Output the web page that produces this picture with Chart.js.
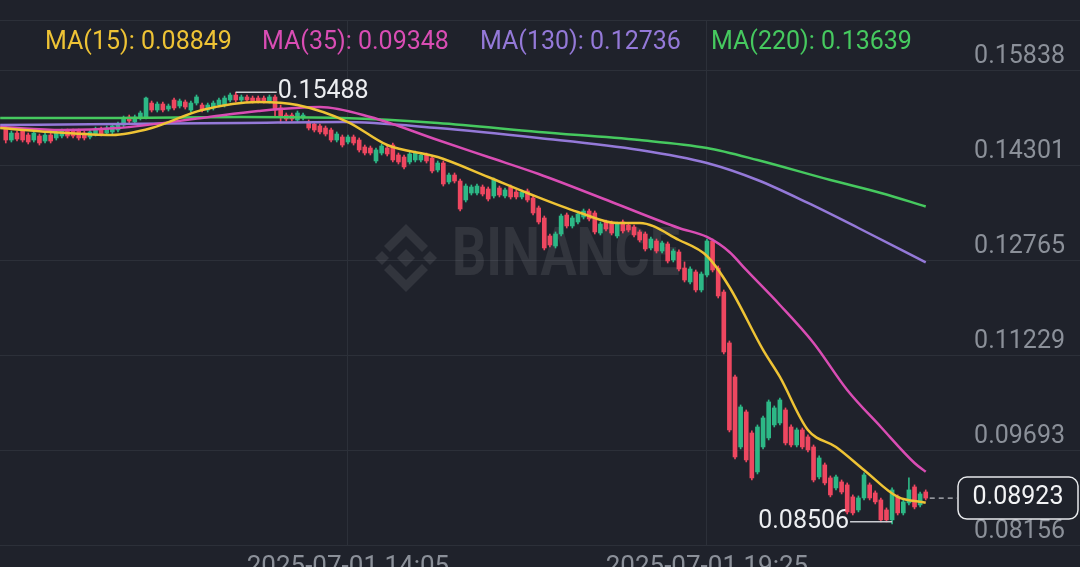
<!DOCTYPE html>
<html lang="en">
<head>
    <meta charset="UTF-8">
    <title>5m candles with MA(15/35/130/220)</title>
    <style>
        html, body {
            margin: 0;
            padding: 0;
            background: #1f222b;
            overflow: hidden;
        }
        body {
            width: 1080px;
            height: 567px;
        }
        #wrap {
            position: relative;
            width: 1080px;
            height: 600px;
        }
    </style>
    <script src="https://cdn.jsdelivr.net/npm/chart.js"></script>
</head>
<body>
    <div id="wrap">
        <canvas id="priceChart" width="1080" height="600" style="width:1080px;height:600px"></canvas>
    </div>

    <script>
        // Candles (5 min)
        const opens = [
            0.14908, 0.14714, 0.14827, 0.14860, 0.14795, 0.14714, 0.14779, 0.14698, 0.14795, 0.14747,
            0.14779, 0.14860, 0.14860, 0.14860, 0.14827, 0.14763, 0.14811, 0.14892, 0.14827, 0.14844,
            0.14876, 0.14957, 0.15086, 0.15005, 0.15070, 0.15086, 0.15312, 0.15199, 0.15296, 0.15215,
            0.15361, 0.15264, 0.15329, 0.15199, 0.15312, 0.15280, 0.15199, 0.15232, 0.15280, 0.15280,
            0.15361, 0.15442, 0.15361, 0.15410, 0.15393, 0.15393, 0.15393, 0.15345, 0.15410, 0.15232,
            0.15118, 0.15118, 0.15038, 0.15070, 0.15005, 0.14973, 0.14941, 0.14908, 0.14876, 0.14714,
            0.14763, 0.14682, 0.14763, 0.14714, 0.14601, 0.14585, 0.14375, 0.14504, 0.14585, 0.14633,
            0.14472, 0.14439, 0.14359, 0.14391, 0.14391, 0.14472, 0.14423, 0.14229, 0.14342, 0.14035,
            0.14148, 0.14051, 0.13744, 0.13857, 0.13857, 0.13954, 0.13922, 0.13809, 0.13938, 0.13809,
            0.13954, 0.13873, 0.13793, 0.13890, 0.13776, 0.13615, 0.13453, 0.13162, 0.13000, 0.13194,
            0.13501, 0.13324, 0.13388, 0.13469, 0.13566, 0.13534, 0.13210, 0.13388, 0.13372, 0.13162,
            0.13388, 0.13340, 0.13307, 0.13227, 0.13194, 0.12968, 0.13081, 0.12919, 0.13033, 0.12774,
            0.12903, 0.12644, 0.12418, 0.12580, 0.12289, 0.12531, 0.13081, 0.12644, 0.12256, 0.11432,
            0.10882, 0.09750, 0.10316, 0.09976, 0.09346, 0.09750, 0.09896, 0.10106, 0.10138, 0.10348,
            0.10073, 0.09782, 0.10025, 0.09912, 0.09750, 0.09265, 0.09459, 0.09249, 0.09087, 0.09184,
            0.09136, 0.08942, 0.08731, 0.08925, 0.09136, 0.09006, 0.08893, 0.08731, 0.08570, 0.08942,
            0.08683, 0.08845, 0.09103, 0.08812, 0.09022
        ];
        const highs = [
            0.14957, 0.14860, 0.14860, 0.14892, 0.14827, 0.14860, 0.14811, 0.14827, 0.14827, 0.14876,
            0.14892, 0.14892, 0.14892, 0.14892, 0.14860, 0.14876, 0.14924, 0.14924, 0.14941, 0.14973,
            0.15005, 0.15102, 0.15118, 0.15118, 0.15183, 0.15410, 0.15345, 0.15329, 0.15329, 0.15296,
            0.15393, 0.15377, 0.15361, 0.15345, 0.15442, 0.15312, 0.15312, 0.15345, 0.15393, 0.15426,
            0.15474, 0.15488, 0.15442, 0.15442, 0.15426, 0.15426, 0.15426, 0.15442, 0.15442, 0.15280,
            0.15151, 0.15151, 0.15183, 0.15151, 0.15038, 0.15005, 0.14973, 0.14941, 0.14908, 0.14844,
            0.14795, 0.14795, 0.14795, 0.14747, 0.14633, 0.14617, 0.14585, 0.14650, 0.14617, 0.14666,
            0.14504, 0.14472, 0.14520, 0.14536, 0.14504, 0.14504, 0.14456, 0.14375, 0.14375, 0.14181,
            0.14181, 0.14084, 0.14003, 0.13987, 0.14003, 0.13987, 0.13954, 0.14100, 0.13970, 0.13938,
            0.13987, 0.13906, 0.13906, 0.13922, 0.13809, 0.13647, 0.13485, 0.13194, 0.13227, 0.13518,
            0.13534, 0.13485, 0.13550, 0.13598, 0.13598, 0.13566, 0.13388, 0.13421, 0.13404, 0.13388,
            0.13421, 0.13372, 0.13340, 0.13259, 0.13227, 0.13146, 0.13113, 0.13081, 0.13065, 0.12952,
            0.12936, 0.12742, 0.12661, 0.12612, 0.12580, 0.13113, 0.13113, 0.12677, 0.12289, 0.11464,
            0.10914, 0.10429, 0.10348, 0.10009, 0.10106, 0.10251, 0.10510, 0.10413, 0.10542, 0.10381,
            0.10106, 0.10057, 0.10057, 0.09944, 0.09782, 0.09605, 0.09491, 0.09281, 0.09297, 0.09216,
            0.09168, 0.08974, 0.08958, 0.09330, 0.09168, 0.09039, 0.08925, 0.08764, 0.09087, 0.08974,
            0.08893, 0.09249, 0.09136, 0.09022, 0.09055
        ];
        const lows = [
            0.14666, 0.14682, 0.14698, 0.14682, 0.14650, 0.14682, 0.14633, 0.14666, 0.14666, 0.14714,
            0.14747, 0.14747, 0.14747, 0.14714, 0.14714, 0.14730, 0.14779, 0.14779, 0.14795, 0.14811,
            0.14844, 0.14924, 0.14989, 0.14973, 0.15038, 0.15054, 0.15167, 0.15167, 0.15167, 0.15183,
            0.15199, 0.15232, 0.15215, 0.15167, 0.15280, 0.15167, 0.15167, 0.15199, 0.15248, 0.15248,
            0.15329, 0.15329, 0.15329, 0.15329, 0.15312, 0.15312, 0.15312, 0.15312, 0.15102, 0.14989,
            0.15021, 0.15021, 0.15005, 0.15038, 0.14876, 0.14844, 0.14811, 0.14779, 0.14682, 0.14682,
            0.14601, 0.14650, 0.14633, 0.14520, 0.14472, 0.14472, 0.14342, 0.14472, 0.14456, 0.14359,
            0.14326, 0.14245, 0.14326, 0.14359, 0.14359, 0.14342, 0.14181, 0.14197, 0.13970, 0.14003,
            0.14019, 0.13566, 0.13712, 0.13825, 0.13825, 0.13809, 0.13728, 0.13776, 0.13793, 0.13776,
            0.13760, 0.13760, 0.13760, 0.13712, 0.13501, 0.13356, 0.12936, 0.12984, 0.12968, 0.13162,
            0.13291, 0.13291, 0.13356, 0.13437, 0.13404, 0.13194, 0.13178, 0.13243, 0.13178, 0.13130,
            0.13210, 0.13227, 0.13146, 0.13065, 0.12919, 0.12936, 0.12887, 0.12887, 0.12725, 0.12742,
            0.12596, 0.12418, 0.12386, 0.12256, 0.12256, 0.12499, 0.12580, 0.12159, 0.11254, 0.09993,
            0.09556, 0.09718, 0.09508, 0.09216, 0.09313, 0.09718, 0.09863, 0.10073, 0.10106, 0.09782,
            0.09750, 0.09750, 0.09718, 0.09669, 0.09184, 0.09233, 0.09136, 0.08942, 0.09055, 0.08990,
            0.08667, 0.08650, 0.08699, 0.08893, 0.08893, 0.08828, 0.08537, 0.08537, 0.08506, 0.08650,
            0.08650, 0.08812, 0.08748, 0.08780, 0.08893
        ];
        const closes = [
            0.14714, 0.14827, 0.14730, 0.14714, 0.14682, 0.14827, 0.14666, 0.14795, 0.14698, 0.14844,
            0.14860, 0.14779, 0.14779, 0.14747, 0.14747, 0.14844, 0.14892, 0.14811, 0.14908, 0.14941,
            0.14973, 0.15070, 0.15021, 0.15086, 0.15151, 0.15393, 0.15199, 0.15296, 0.15199, 0.15264,
            0.15232, 0.15345, 0.15248, 0.15312, 0.15410, 0.15199, 0.15280, 0.15312, 0.15361, 0.15393,
            0.15442, 0.15361, 0.15410, 0.15361, 0.15345, 0.15345, 0.15345, 0.15410, 0.15199, 0.15102,
            0.15054, 0.15054, 0.15151, 0.15118, 0.14908, 0.14876, 0.14844, 0.14811, 0.14714, 0.14811,
            0.14633, 0.14763, 0.14666, 0.14553, 0.14504, 0.14504, 0.14553, 0.14617, 0.14488, 0.14391,
            0.14359, 0.14278, 0.14488, 0.14504, 0.14472, 0.14375, 0.14213, 0.14342, 0.14003, 0.14148,
            0.14051, 0.13598, 0.13970, 0.13954, 0.13970, 0.13841, 0.13760, 0.14067, 0.13825, 0.13906,
            0.13793, 0.13793, 0.13873, 0.13744, 0.13534, 0.13388, 0.12968, 0.13016, 0.13194, 0.13485,
            0.13324, 0.13453, 0.13518, 0.13566, 0.13437, 0.13227, 0.13356, 0.13275, 0.13210, 0.13356,
            0.13243, 0.13259, 0.13178, 0.13097, 0.12952, 0.13113, 0.12919, 0.13049, 0.12758, 0.12919,
            0.12628, 0.12450, 0.12628, 0.12289, 0.12547, 0.13081, 0.12612, 0.12192, 0.11286, 0.10025,
            0.09588, 0.10397, 0.09540, 0.09249, 0.10073, 0.10219, 0.10478, 0.10381, 0.10510, 0.09815,
            0.09782, 0.10025, 0.09750, 0.09702, 0.09216, 0.09572, 0.09168, 0.08974, 0.09265, 0.09022,
            0.08699, 0.08683, 0.08925, 0.09297, 0.08925, 0.08861, 0.08570, 0.08570, 0.09055, 0.08683,
            0.08861, 0.09055, 0.08780, 0.08990, 0.08923
        ];

        // Moving averages (candle index -> value)
        const ma15Idx = [-1, 8, 19, 26, 35, 45, 52, 61, 68, 77, 86, 93, 102, 109, 113, 120, 125, 129, 135, 138, 143, 148, 153, 159, 164];
        const ma15 = [0.14908, 0.14844, 0.14795, 0.14908, 0.15199, 0.15329, 0.15280, 0.15005, 0.14633, 0.14439, 0.14116, 0.13857, 0.13550, 0.13372, 0.13372, 0.13097, 0.12838, 0.12337, 0.11319, 0.10882, 0.10025, 0.09750, 0.09378, 0.08942, 0.08849];
        const ma35Idx = [-1, 10, 20, 35, 45, 56, 65, 77, 86, 95, 108, 120, 125, 129, 132, 138, 144, 150, 156, 162, 164];
        const ma35 = [0.14924, 0.14876, 0.14908, 0.15070, 0.15183, 0.15248, 0.15086, 0.14714, 0.14439, 0.14164, 0.13712, 0.13291, 0.13146, 0.12903, 0.12612, 0.12046, 0.11432, 0.10672, 0.10073, 0.09491, 0.09348];
        const ma130Idx = [-1, 20, 42, 60, 77, 95, 113, 125, 134, 143, 152, 164];
        const ma130 = [0.14957, 0.14973, 0.14989, 0.15005, 0.14908, 0.14747, 0.14553, 0.14342, 0.14067, 0.13696, 0.13291, 0.12736];
        const ma220Idx = [-1, 20, 42, 60, 77, 95, 113, 125, 134, 147, 156, 164];
        const ma220 = [0.15070, 0.15070, 0.15086, 0.15070, 0.14989, 0.14844, 0.14714, 0.14585, 0.14391, 0.14067, 0.13857, 0.13639];
        const maNames = ['MA(15)', 'MA(35)', 'MA(130)', 'MA(220)'];

        // Axis ticks
        const priceTicks = [0.15838, 0.14301, 0.12765, 0.11229, 0.09693, 0.08156];
        const timeTickIndex = [61, 125];
        const timeTickLabels = ['2025-07-01 14:05', '2025-07-01 19:25'];

        // Styles
        const BG = '#1f222b';
        const GRID = '#2c3039';
        const AXIS_TEXT = '#8b9099';
        const UP = '#2db886';
        const DOWN = '#ee4760';
        const maColors = ['#eec335', '#d94db4', '#9479d8', '#46c95f'];
        const legendX = [45, 262, 480, 711];
        const FONT = 'Roboto, "Open Sans", sans-serif';

        const idx = opens.map((_, i) => i);
        const candleColors = idx.map(i => closes[i] >= opens[i] ? UP : DOWN);
        const wickData = idx.map(i => ({ x: i, y: [lows[i], highs[i]] }));
        const bodyData = idx.map(i => ({ x: i, y: [opens[i], closes[i]] }));
        const toPoints = (xs, ys) => xs.map((v, i) => ({ x: v, y: ys[i] }));
        const maSeries = [toPoints(ma15Idx, ma15), toPoints(ma35Idx, ma35), toPoints(ma130Idx, ma130), toPoints(ma220Idx, ma220)];
        const maLast = [ma15, ma35, ma130, ma220].map(a => a[a.length - 1]);

        function diamond(ctx, x, y, r) {
            ctx.beginPath();
            ctx.moveTo(x, y - r);
            ctx.lineTo(x + r, y);
            ctx.lineTo(x, y + r);
            ctx.lineTo(x - r, y);
            ctx.closePath();
            ctx.fill();
        }

        function chevron(ctx, cx, cy, dir) {
            // dir -1 = pointing up, 1 = pointing down
            ctx.beginPath();
            ctx.moveTo(cx - 22, cy + dir * 12);
            ctx.lineTo(cx, cy + dir * 34);
            ctx.lineTo(cx + 22, cy + dir * 12);
            ctx.lineTo(cx + 16, cy + dir * 6);
            ctx.lineTo(cx, cy + dir * 22);
            ctx.lineTo(cx - 16, cy + dir * 6);
            ctx.closePath();
            ctx.fill();
        }

        function drawWatermark(ctx) {
            ctx.save();
            ctx.fillStyle = 'rgba(255,255,255,0.085)';
            const cx = 406, cy = 258;
            diamond(ctx, cx, cy, 9);
            diamond(ctx, cx - 24, cy, 7);
            diamond(ctx, cx + 24, cy, 7);
            chevron(ctx, cx, cy, -1);
            chevron(ctx, cx, cy, 1);
            ctx.font = 'bold 66px ' + FONT;
            ctx.textBaseline = 'middle';
            ctx.textAlign = 'left';
            const w = ctx.measureText('BINANCE').width;
            ctx.translate(452, 258);
            ctx.scale(228 / w, 1);
            ctx.fillText('BINANCE', 0, 0);
            ctx.restore();
        }

        const overlay = {
            id: 'overlay',
            beforeDatasetsDraw(chart) {
                drawWatermark(chart.ctx);
            },
            afterDraw(chart) {
                const { ctx, chartArea, scales: { x, y } } = chart;
                ctx.save();

                // top border line
                ctx.strokeStyle = GRID;
                ctx.lineWidth = 1;
                ctx.beginPath();
                ctx.moveTo(0, chartArea.top + 0.5);
                ctx.lineTo(chart.width, chartArea.top + 0.5);
                ctx.stroke();

                // price axis labels, sitting above their grid lines
                ctx.font = '25px ' + FONT;
                ctx.fillStyle = AXIS_TEXT;
                ctx.textAlign = 'right';
                ctx.textBaseline = 'middle';
                y.ticks.forEach(t => {
                    ctx.fillText(t.value.toFixed(5), 1065, y.getPixelForValue(t.value) - 13.5);
                });

                // time axis labels, below the plot (cut by the window edge)
                ctx.font = '26px ' + FONT;
                ctx.textAlign = 'center';
                x.ticks.forEach((t, i) => {
                    ctx.fillText(timeTickLabels[i], x.getPixelForValue(t.value), chartArea.bottom + 21);
                });

                // MA legend
                ctx.font = '25px ' + FONT;
                ctx.textAlign = 'left';
                maNames.forEach((n, i) => {
                    ctx.fillStyle = maColors[i];
                    ctx.fillText(n + ': ' + maLast[i].toFixed(5), legendX[i], 43);
                });

                // highest / lowest markers
                let hi = 0, lo = 0;
                highs.forEach((v, i) => { if (v > highs[hi]) hi = i; });
                lows.forEach((v, i) => { if (v < lows[lo]) lo = i; });
                ctx.strokeStyle = '#c9ccd1';
                ctx.lineWidth = 1.5;
                ctx.fillStyle = '#eceef1';
                const hx = x.getPixelForValue(hi), hy = y.getPixelForValue(highs[hi]);
                ctx.beginPath();
                ctx.moveTo(hx, hy);
                ctx.lineTo(hx + 41, hy);
                ctx.stroke();
                ctx.textAlign = 'left';
                ctx.fillText(highs[hi].toFixed(5), hx + 42, hy);
                const lx = x.getPixelForValue(lo), ly = y.getPixelForValue(lows[lo]) - 2;
                ctx.beginPath();
                ctx.moveTo(lx, ly);
                ctx.lineTo(lx - 42, ly);
                ctx.stroke();
                ctx.textAlign = 'right';
                ctx.fillText(lows[lo].toFixed(5), lx - 43, ly);

                // last price: dashed guide + boxed label
                const last = closes.length - 1;
                const px = x.getPixelForValue(last), py = y.getPixelForValue(closes[last]);
                ctx.setLineDash([5, 4]);
                ctx.strokeStyle = '#b9bcc2';
                ctx.lineWidth = 1.2;
                ctx.beginPath();
                ctx.moveTo(px + 4, py);
                ctx.lineTo(957, py);
                ctx.stroke();
                ctx.setLineDash([]);
                const bx = 958, bw = 120, bh = 42, r = 9, by = py - bh / 2;
                ctx.beginPath();
                ctx.moveTo(bx + r, by);
                ctx.lineTo(bx + bw - r, by);
                ctx.arcTo(bx + bw, by, bx + bw, by + r, r);
                ctx.lineTo(bx + bw, by + bh - r);
                ctx.arcTo(bx + bw, by + bh, bx + bw - r, by + bh, r);
                ctx.lineTo(bx + r, by + bh);
                ctx.arcTo(bx, by + bh, bx, by + bh - r, r);
                ctx.lineTo(bx, by + r);
                ctx.arcTo(bx, by, bx + r, by, r);
                ctx.closePath();
                ctx.fillStyle = BG;
                ctx.fill();
                ctx.strokeStyle = '#e6e8eb';
                ctx.lineWidth = 1.5;
                ctx.stroke();
                ctx.fillStyle = '#f2f3f5';
                ctx.textAlign = 'center';
                ctx.fillText(closes[last].toFixed(5), bx + bw / 2, py);

                ctx.restore();
            }
        };

        const ctx = document.getElementById('priceChart').getContext('2d');
        const chart = new Chart(ctx, {
            type: 'bar',
            data: {
                datasets: [
                    ...maSeries.map((pts, i) => ({
                        type: 'line',
                        label: maNames[i],
                        data: pts,
                        borderColor: maColors[i],
                        borderWidth: 2.5,
                        pointRadius: 0,
                        cubicInterpolationMode: 'monotone',
                        order: 0
                    })),
                    {
                        label: 'body',
                        data: bodyData,
                        backgroundColor: candleColors,
                        barThickness: 4,
                        grouped: false,
                        borderSkipped: false,
                        order: 1
                    },
                    {
                        label: 'wick',
                        data: wickData,
                        backgroundColor: candleColors,
                        barThickness: 1,
                        grouped: false,
                        borderSkipped: false,
                        order: 2
                    }
                ]
            },
            options: {
                responsive: false,
                animation: false,
                devicePixelRatio: 1,
                layout: { padding: { top: 20, bottom: 54, left: 0, right: 0 } },
                plugins: {
                    legend: { display: false },
                    tooltip: { enabled: false }
                },
                scales: {
                    x: {
                        type: 'linear',
                        min: -1.03,
                        max: 191.5,
                        offset: false,
                        grid: { color: GRID, drawTicks: false, offset: false },
                        border: { display: false },
                        afterBuildTicks: s => { s.ticks = timeTickIndex.map(v => ({ value: v })); },
                        ticks: { display: false }
                    },
                    y: {
                        type: 'linear',
                        position: 'right',
                        min: 0.08148,
                        max: 0.16655,
                        beginAtZero: false,
                        grid: { color: GRID, drawTicks: false },
                        border: { display: false },
                        afterBuildTicks: s => { s.ticks = priceTicks.map(v => ({ value: v })); },
                        ticks: { display: false }
                    }
                }
            },
            plugins: [overlay]
        });
    </script>
</body>
</html>
